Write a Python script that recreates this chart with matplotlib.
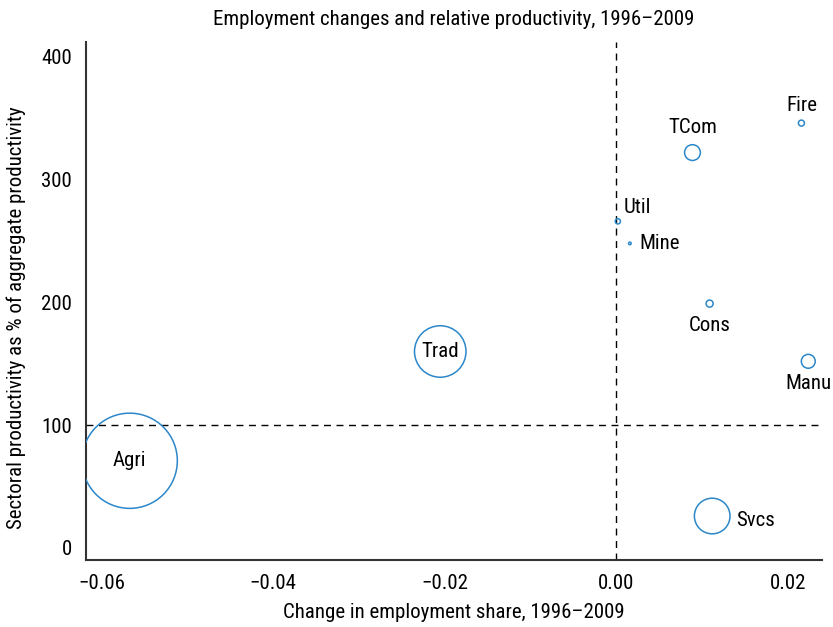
import matplotlib
matplotlib.use('Agg')
import matplotlib.pyplot as plt
from matplotlib import font_manager
import numpy as np

# Sector data
sectors = ['Agri', 'Trad', 'Svcs', 'TCom', 'Manu', 'Cons', 'Fire', 'Util', 'Mine']
emp_change = [-0.0567, -0.0205, 0.0112, 0.0089, 0.0224, 0.0109, 0.0216, 0.0002, 0.0016]
rel_prod = [71, 160, 26, 322, 152, 199, 346, 266, 248]
emp_share = [40.0, 11.7, 5.6, 1.1, 0.85, 0.22, 0.16, 0.12, 0.03]

x_ticks = [-0.06, -0.04, -0.02, 0.00, 0.02]
y_ticks = [0, 100, 200, 300, 400]

# Pick a narrow font if available
names = {f.name for f in font_manager.fontManager.ttflist}
for fam in ['Liberation Sans Narrow', 'Roboto Condensed', 'Roboto']:
    if fam in names:
        plt.rcParams['font.family'] = [fam, 'DejaVu Sans']
        break

blue = '#2b87c9'

fig = plt.figure(figsize=(8.33, 6.27), dpi=100)
ax = fig.add_axes([0.1032, 0.1069, 0.8836, 0.826])

# bubble area proportional to employment share
sizes = [s * 4700 / 40.0 for s in emp_share]
ax.scatter(emp_change, rel_prod, s=sizes, facecolors='none', edgecolors=blue,
           linewidths=1.1, zorder=3)

ax.axvline(0, color='black', linestyle=(0, (5, 4)), linewidth=1.0, zorder=1)
ax.axhline(100, color='black', linestyle=(0, (5, 4)), linewidth=1.0, zorder=1)

# labels
fs = 15
lab = dict(zip(sectors, zip(emp_change, rel_prod)))
ax.annotate('Agri', lab['Agri'], ha='center', va='center', fontsize=fs)
ax.annotate('Trad', lab['Trad'], ha='center', va='center', fontsize=fs)
ax.annotate('Svcs', lab['Svcs'], xytext=(17, -3), textcoords='offset points', ha='left', va='center', fontsize=fs)
ax.annotate('TCom', lab['TCom'], xytext=(0, 18), textcoords='offset points', ha='center', va='center', fontsize=fs)
ax.annotate('Fire', lab['Fire'], xytext=(0, 13), textcoords='offset points', ha='center', va='center', fontsize=fs)
ax.annotate('Util', lab['Util'], xytext=(4, 10), textcoords='offset points', ha='left', va='center', fontsize=fs)
ax.annotate('Mine', lab['Mine'], xytext=(7, 0), textcoords='offset points', ha='left', va='center', fontsize=fs)
ax.annotate('Cons', lab['Cons'], xytext=(0, -16), textcoords='offset points', ha='center', va='center', fontsize=fs)
ax.annotate('Manu', lab['Manu'], xytext=(0, -16), textcoords='offset points', ha='center', va='center', fontsize=fs)

ax.set_xlim(-0.0618, 0.0240)
ax.set_ylim(-9.8, 412)
ax.set_xticks(x_ticks)
ax.set_xticklabels(['\u22120.06', '\u22120.04', '\u22120.02', '0.00', '0.02'])
ax.set_yticks(y_ticks)
ax.tick_params(length=0, labelsize=fs, pad=10)

for side in ['top', 'right']:
    ax.spines[side].set_visible(False)
for side in ['left', 'bottom']:
    ax.spines[side].set_color('#333333')
    ax.spines[side].set_linewidth(1.5)

ax.set_title('Employment changes and relative productivity, 1996\u20132009', fontsize=fs, pad=12)
ax.set_xlabel('Change in employment share, 1996\u20132009', fontsize=fs, labelpad=7)
ax.set_ylabel('Sectoral productivity as % of aggregate productivity', fontsize=fs)
ax.yaxis.set_label_coords(-0.082, 0.467)

fig.savefig('out.png', dpi=100)
